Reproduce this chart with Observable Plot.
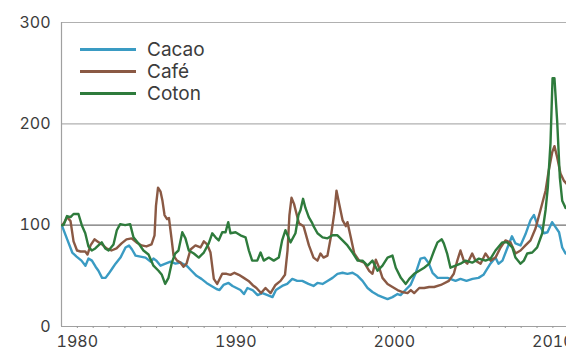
<!DOCTYPE html>
<html>
<head>
<meta charset="utf-8">
<script src="https://cdn.jsdelivr.net/npm/d3@7"></script>
<script src="https://cdn.jsdelivr.net/npm/@observablehq/plot@0.6"></script>
<style>
  html, body { margin: 0; padding: 0; background: #fff; }
  #wrap { position: relative; width: 566px; height: 352px; font-family: Inter, "DejaVu Sans", sans-serif; }
  #legend { position: absolute; left: 80px; top: 38px; }
  .item { display: flex; align-items: center; height: 22px; font-size: 19px; color: #3c3c3c; }
  .swatch { width: 56px; height: 3px; margin-right: 11px; }
</style>
</head>
<body>
<div id="wrap"><div id="legend"></div></div>
<script>
const seriesNames = ["Cacao", "Café", "Coton"];
const seriesColors = ["#3a9bc3", "#8a5944", "#2e7b3c"];
const yTicks = [0, 100, 200, 300];
const xLabelYears = [1980, 1990, 2000, 2010];

// [year, index value]
const cacao = [[1979.04,99],[1979.36,86],[1979.68,73],[1979.95,69],[1980.26,65],[1980.51,60],[1980.70,67],[1980.92,65],[1981.15,59],[1981.33,55],[1981.56,48],[1981.78,48],[1981.97,52],[1982.19,57],[1982.41,62],[1982.72,68],[1983.04,78],[1983.26,80],[1983.45,76],[1983.67,70],[1983.98,69],[1984.30,68],[1984.62,64],[1984.80,67],[1984.99,65],[1985.25,60],[1985.56,62],[1985.88,64],[1986.19,62],[1986.51,63],[1986.89,60],[1987.20,55],[1987.52,50],[1987.83,47],[1988.15,43],[1988.46,40],[1988.78,37],[1988.97,36],[1989.22,41],[1989.54,43],[1989.79,40],[1990.04,38],[1990.29,36],[1990.51,32],[1990.73,38],[1991.05,36],[1991.37,31],[1991.68,33],[1992.00,31],[1992.31,29],[1992.53,36],[1992.92,40],[1993.24,42],[1993.56,47],[1993.87,45],[1994.19,45],[1994.58,42],[1994.90,40],[1995.15,43],[1995.47,42],[1995.78,45],[1996.10,48],[1996.41,52],[1996.73,53],[1997.04,52],[1997.36,53],[1997.68,50],[1997.99,45],[1998.31,38],[1998.62,34],[1998.94,31],[1999.25,29],[1999.57,27],[1999.88,29],[2000.20,32],[2000.39,31],[2000.70,36],[2001.02,41],[2001.33,52],[2001.65,67],[2001.90,68],[2002.15,63],[2002.41,53],[2002.73,48],[2002.97,48],[2003.35,48],[2003.86,45],[2004.17,47],[2004.55,45],[2004.93,47],[2005.31,48],[2005.62,51],[2006.06,62],[2006.38,68],[2006.57,62],[2006.82,65],[2007.14,78],[2007.42,89],[2007.64,82],[2007.96,80],[2008.27,91],[2008.59,105],[2008.81,110],[2009.03,100],[2009.22,98],[2009.44,92],[2009.66,93],[2009.95,103],[2010.17,98],[2010.39,93],[2010.59,78],[2010.80,72]];

const cafe = [[1979.04,100],[1979.19,103],[1979.35,108],[1979.57,104],[1979.76,84],[1979.98,75],[1980.20,74],[1980.50,74],[1980.64,71],[1980.83,80],[1981.08,86],[1981.27,84],[1981.56,81],[1981.84,77],[1982.15,75],[1982.47,77],[1982.79,82],[1983.10,86],[1983.42,87],[1983.73,83],[1984.05,80],[1984.36,79],[1984.68,81],[1984.87,90],[1984.96,119],[1985.09,137],[1985.25,133],[1985.37,124],[1985.50,110],[1985.66,106],[1985.78,107],[1985.94,87],[1986.07,70],[1986.29,65],[1986.51,63],[1986.70,59],[1986.89,62],[1987.14,76],[1987.45,80],[1987.77,78],[1987.98,84],[1988.19,81],[1988.40,73],[1988.61,47],[1988.82,42],[1989.14,52],[1989.41,52],[1989.66,51],[1989.91,53],[1990.19,51],[1990.50,48],[1990.80,45],[1991.05,41],[1991.30,38],[1991.59,33],[1991.87,38],[1992.19,33],[1992.50,41],[1992.82,45],[1993.10,51],[1993.26,75],[1993.38,110],[1993.51,127],[1993.67,121],[1993.83,111],[1993.98,102],[1994.27,99],[1994.61,80],[1994.90,68],[1995.15,65],[1995.34,72],[1995.53,68],[1995.78,70],[1995.99,88],[1996.21,112],[1996.35,134],[1996.52,121],[1996.73,105],[1996.94,99],[1997.04,103],[1997.25,88],[1997.47,72],[1997.78,65],[1998.10,63],[1998.41,55],[1998.62,52],[1998.83,66],[1999.04,58],[1999.25,48],[1999.57,42],[1999.88,39],[2000.20,36],[2000.51,34],[2000.83,33],[2001.04,36],[2001.25,33],[2001.57,38],[2001.88,38],[2002.20,39],[2002.51,39],[2002.93,41],[2003.44,45],[2003.75,52],[2003.97,65],[2004.17,75],[2004.38,65],[2004.60,62],[2004.91,72],[2005.12,65],[2005.44,62],[2005.75,72],[2006.07,65],[2006.38,68],[2006.70,78],[2007.01,85],[2007.33,83],[2007.64,72],[2007.96,75],[2008.27,80],[2008.59,85],[2008.91,97],[2009.22,115],[2009.54,134],[2009.74,154],[2009.96,172],[2010.10,178],[2010.27,167],[2010.48,151],[2010.69,144],[2010.86,141]];

const coton = [[1979.04,100],[1979.13,100],[1979.35,109],[1979.57,108],[1979.76,111],[1980.07,111],[1980.28,100],[1980.50,92],[1980.70,79],[1980.91,75],[1981.13,77],[1981.33,80],[1981.54,83],[1981.76,77],[1981.97,75],[1982.28,81],[1982.49,95],[1982.70,101],[1983.02,100],[1983.33,101],[1983.54,88],[1983.86,82],[1984.17,75],[1984.49,71],[1984.80,60],[1985.12,55],[1985.33,51],[1985.54,42],[1985.75,48],[1985.96,63],[1986.17,72],[1986.38,75],[1986.62,93],[1986.82,87],[1987.03,75],[1987.35,72],[1987.66,68],[1987.98,73],[1988.29,82],[1988.51,92],[1988.72,88],[1988.92,85],[1989.14,93],[1989.35,93],[1989.52,103],[1989.66,92],[1989.98,93],[1990.29,90],[1990.61,88],[1990.82,75],[1991.03,65],[1991.35,65],[1991.56,73],[1991.76,65],[1992.08,68],[1992.39,65],[1992.71,68],[1992.92,85],[1993.13,95],[1993.45,83],[1993.76,92],[1993.95,110],[1994.08,115],[1994.24,126],[1994.39,117],[1994.60,108],[1994.82,102],[1994.90,99],[1995.15,92],[1995.47,88],[1995.78,87],[1996.10,90],[1996.41,90],[1996.73,85],[1997.04,80],[1997.36,73],[1997.68,65],[1997.99,65],[1998.31,60],[1998.62,65],[1998.94,55],[1999.25,60],[1999.57,68],[1999.88,70],[2000.09,58],[2000.41,48],[2000.72,42],[2000.94,47],[2001.25,52],[2001.57,55],[2001.88,58],[2002.20,62],[2002.51,75],[2002.72,83],[2002.99,86],[2003.12,82],[2003.33,72],[2003.54,58],[2003.86,60],[2004.17,62],[2004.49,65],[2004.91,63],[2005.33,67],[2005.75,65],[2006.07,67],[2006.38,75],[2006.80,83],[2007.12,83],[2007.44,78],[2007.64,68],[2007.96,62],[2008.17,65],[2008.38,72],[2008.70,73],[2009.01,78],[2009.33,92],[2009.54,115],[2009.68,137],[2009.85,181],[2009.98,245],[2010.10,245],[2010.27,203],[2010.44,147],[2010.59,124],[2010.80,117]];

const rows = [];
[cacao, cafe, coton].forEach((arr, i) => arr.forEach(([year, value]) => rows.push({year, value, series: seriesNames[i]})));

const font = 'Inter, "DejaVu Sans", sans-serif';
const chart = Plot.plot({
  width: 566,
  height: 352,
  marginLeft: 61,
  marginRight: 0,
  marginTop: 22,
  marginBottom: 26,
  style: {fontFamily: font, fontSize: "16px", color: "#3c3c3c", background: "#fff"},
  x: {domain: [1979, 2010.86]},
  y: {domain: [0, 300]},
  color: {domain: seriesNames, range: seriesColors},
  marks: [
    Plot.ruleY([200, 300], {stroke: "#b0b0b0", strokeWidth: 1.2}),
    Plot.ruleY([100], {stroke: "#707070", strokeWidth: 1.2}),
    Plot.ruleY([0], {stroke: "#a0a0a0", strokeWidth: 1.2}),
    Plot.ruleX([1979], {stroke: "#a0a0a0", strokeWidth: 1.2}),
    Plot.axisY({ticks: yTicks, tickSize: 0, tickPadding: 11, label: null, fontSize: 16}),
    Plot.axisX({ticks: d3.range(1980, 2011), tickSize: 2, tickPadding: 7, stroke: "#999",
      tickFormat: d => xLabelYears.includes(d) ? String(d) : "", label: null, fontSize: 16}),
    Plot.line(rows, {x: "year", y: "value", z: "series", stroke: "series", strokeWidth: 2.4, strokeLinejoin: "round", clip: true})
  ]
});
document.getElementById("wrap").prepend(chart);
chart.style.position = "absolute";
chart.style.left = "0";
chart.style.top = "0";

const legend = document.getElementById("legend");
seriesNames.forEach((name, i) => {
  const item = document.createElement("div");
  item.className = "item";
  const sw = document.createElement("span");
  sw.className = "swatch";
  sw.style.background = seriesColors[i];
  const t = document.createElement("span");
  t.textContent = name;
  item.append(sw, t);
  legend.append(item);
});
</script>
</body>
</html>
